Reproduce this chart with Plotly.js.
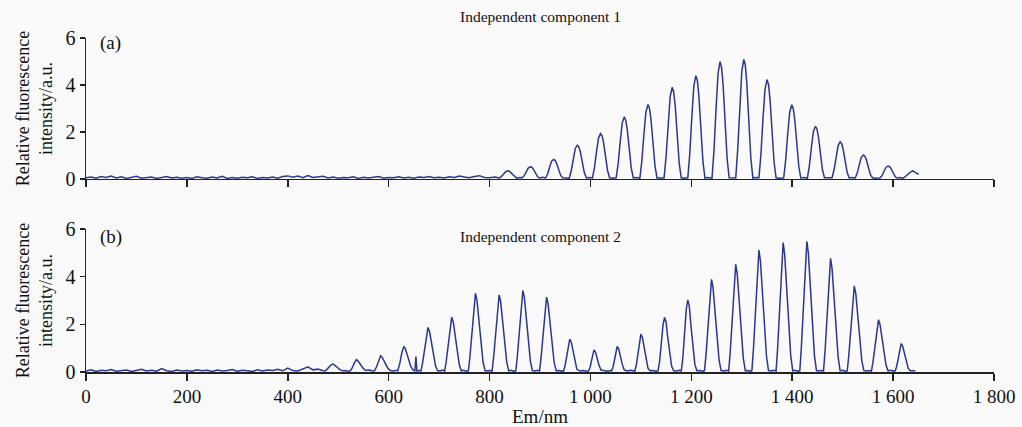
<!DOCTYPE html>
<html>
<head>
<meta charset="utf-8">
<script src="https://cdn.plot.ly/plotly-3.0.1.min.js"></script>
<style>html,body{margin:0;padding:0;background:#fafafa;}</style>
</head>
<body>
<div id="chart" style="width:1022px;height:427px;"></div>
<script>
// ---- Independent component 1 (panel a) ----
const c1Wavelength = [
  0,10,20,30,40,50,60,70,80,90,100,110,120,130,140,150,160,170,180,190,
  200,210,220,230,240,250,260,270,280,290,300,310,320,330,340,350,360,370,380,390,
  400,410,420,430,440,450,460,470,480,490,500,510,520,530,540,550,560,570,580,590,
  600,610,620,630,640,650,660,670,680,690,700,710,720,730,740,750,760,770,780,790,
  800,810,
  820,824,828,832,836,839,842,846,850,854,860,
  865,869,873,877,881,884,887,891,895,899,905,
  911,915,919,923,927,930,933,937,941,945,951,
  958,962,966,970,974,977,980,984,988,992,998,
  1004,1008,1012,1016,1020,1023,1026,1030,1034,1038,1044,
  1051,1055,1059,1063,1067,1070,1073,1077,1081,1085,1091,
  1098,1102,1106,1110,1114,1117,1120,1124,1128,1132,1138,
  1146,1150,1154,1158,1162,1165,1168,1172,1176,1180,1185,
  1193,1197,1201,1205,1209,1212,1215,1219,1223,1227,1232,
  1241,1245,1249,1253,1257,1260,1263,1267,1271,1275,1280,
  1288,1292,1296,1300,1304,1307,1310,1314,1318,1322,1327,
  1334,1338,1342,1346,1350,1353,1356,1360,1364,1368,1374,
  1383,1387,1391,1395,1399,1402,1405,1409,1413,1417,1423,
  1430,1434,1438,1442,1446,1449,1452,1456,1460,1464,1470,
  1479,1483,1487,1491,1495,1498,1501,1505,1509,1513,1519,
  1525,1529,1533,1537,1541,1544,1547,1551,1555,1559,1565,
  1574,1578,1582,1586,1590,1593,1596,1600,1604,1608,1614,
  1620,1625,1630,1635,1639,1643,1647,1651
];
const c1Intensity = [
  0.05,0.08,0.03,0.1,0.06,0.12,0.04,0.09,0.02,0.07,
  0.11,0.03,0.06,0.08,0.02,0.05,0.1,0.04,0.07,0.03,
  0.06,0.02,0.09,0.05,0.03,0.08,0.04,0.11,0.02,0.06,
  0.03,0.07,0.05,0.09,0.02,0.06,0.04,0.08,0.03,0.1,
  0.13,0.07,0.12,0.05,0.14,0.06,0.09,0.11,0.04,0.08,
  0.03,0.06,0.05,0.09,0.02,0.07,0.04,0.08,0.1,0.03,
  0.06,0.05,0.09,0.04,0.07,0.03,0.08,0.06,0.1,0.05,
  0.07,0.04,0.09,0.06,0.12,0.08,0.05,0.1,0.14,0.06,
  0.05,0.08,
  0.04,0.12,0.22,0.31,0.35,0.33,0.27,0.18,0.08,0.03,0.06,
  0.05,0.15,0.32,0.47,0.52,0.5,0.41,0.27,0.1,0.04,0.07,
  0.04,0.2,0.5,0.76,0.83,0.79,0.66,0.42,0.15,0.05,0.03,
  0.03,0.36,0.86,1.3,1.44,1.37,1.15,0.72,0.26,0.04,0.06,
  0.04,0.48,1.16,1.74,1.93,1.84,1.55,0.97,0.35,0.05,0.03,
  0.05,0.66,1.58,2.38,2.64,2.5,2.1,1.32,0.45,0.04,0.06,
  0.03,0.79,1.9,2.85,3.17,3.01,2.54,1.58,0.55,0.04,0.05,
  0.04,0.97,2.34,3.5,3.9,3.7,3.12,1.95,0.66,0.05,0.03,
  0.05,1.1,2.64,3.96,4.4,4.18,3.52,2.2,0.75,0.04,0.06,
  0.03,1.25,3.0,4.5,4.99,4.74,4.0,2.5,0.85,0.05,0.04,
  0.04,1.27,3.05,4.58,5.09,4.84,4.07,2.55,0.87,0.04,0.06,
  0.05,1.06,2.54,3.8,4.23,4.02,3.38,2.12,0.72,0.05,0.03,
  0.04,0.79,1.9,2.84,3.16,3.0,2.53,1.58,0.54,0.04,0.06,
  0.03,0.56,1.34,2.02,2.24,2.13,1.79,1.12,0.38,0.05,0.04,
  0.05,0.4,0.95,1.42,1.58,1.5,1.26,0.79,0.27,0.04,0.06,
  0.04,0.26,0.61,0.92,1.02,0.97,0.82,0.51,0.18,0.05,0.03,
  0.04,0.14,0.33,0.5,0.55,0.52,0.44,0.28,0.1,0.04,0.06,
  0.03,0.12,0.22,0.3,0.34,0.28,0.24,0.2
];

// ---- Independent component 2 (panel b) ----
const c2Wavelength = [
  0,10,20,30,40,50,60,70,80,90,100,110,120,130,140,150,160,170,180,190,
  200,210,220,230,240,250,260,270,280,290,300,310,320,330,340,350,360,370,380,390,
  400,410,420,430,440,450,460,470,
  474,478,482,486,490,494,498,502,508,514,520,
  524,528,532,536,539,542,546,550,555,562,568,
  572,576,580,584,587,590,594,598,603,610,616,
  618,622,626,630,633,636,640,644,649,652,654,656,660,
  664,667,671,675,678,681,685,689,693,697,702,707,
  711,714,718,722,725,728,732,736,740,744,749,754,
  758,761,765,769,772,775,779,783,787,791,796,801,
  805,808,812,816,819,822,826,830,834,838,843,848,
  852,855,859,863,866,869,873,877,881,885,890,895,
  899,902,906,910,913,916,920,924,928,932,938,944,
  947,950,954,957,959,962,965,969,973,979,986,993,
  996,999,1002,1005,1007,1010,1013,1017,1021,1027,1034,1040,
  1042,1045,1048,1051,1053,1056,1059,1063,1067,1073,1080,1086,
  1088,1091,1095,1098,1100,1103,1106,1110,1114,1118,1124,1130,
  1134,1137,1141,1144,1147,1150,1153,1157,1161,1165,1171,1177,
  1180,1183,1187,1190,1193,1196,1199,1203,1207,1211,1217,1223,
  1226,1229,1233,1237,1240,1243,1247,1251,1255,1259,1265,1270,
  1274,1277,1281,1285,1288,1291,1295,1299,1303,1307,1312,1317,
  1320,1323,1327,1331,1334,1337,1341,1345,1349,1353,1359,1364,
  1368,1371,1375,1379,1382,1385,1389,1393,1397,1401,1406,1411,
  1415,1418,1422,1426,1429,1432,1436,1440,1444,1448,1453,1458,
  1462,1465,1469,1473,1476,1479,1483,1487,1491,1495,1500,1505,
  1509,1512,1516,1520,1523,1526,1530,1534,1538,1542,1548,1553,
  1557,1560,1564,1568,1571,1574,1578,1582,1586,1590,1596,1601,
  1604,1607,1610,1613,1616,1619,1622,1626,1630,1634,1639,1644
];
const c2Intensity = [
  0.04,0.09,0.02,0.07,0.05,0.1,0.03,0.06,0.08,0.02,
  0.05,0.11,0.04,0.07,0.03,0.14,0.05,0.02,0.08,0.04,
  0.06,0.03,0.09,0.05,0.07,0.02,0.08,0.04,0.06,0.1,
  0.03,0.07,0.05,0.02,0.09,0.04,0.08,0.06,0.11,0.05,
  0.16,0.06,0.04,0.13,0.22,0.09,0.12,0.05,
  0.04,0.12,0.22,0.3,0.33,0.28,0.2,0.12,0.05,0.06,0.03,
  0.05,0.18,0.38,0.52,0.47,0.38,0.25,0.14,0.06,0.08,0.04,
  0.05,0.22,0.5,0.68,0.62,0.5,0.34,0.17,0.06,0.04,0.07,
  0.05,0.35,0.8,1.07,0.98,0.78,0.5,0.22,0.07,0.05,0.65,0.04,0.06,
  0.05,0.35,0.95,1.6,1.87,1.7,1.25,0.7,0.25,0.06,0.04,0.08,
  0.04,0.43,1.17,1.97,2.3,2.1,1.54,0.86,0.3,0.05,0.07,0.03,
  0.05,0.62,1.68,2.83,3.3,3.02,2.2,1.24,0.43,0.06,0.04,0.06,
  0.04,0.6,1.65,2.78,3.24,2.96,2.17,1.21,0.42,0.05,0.07,0.03,
  0.05,0.64,1.74,2.93,3.42,3.13,2.29,1.28,0.44,0.06,0.04,0.07,
  0.04,0.58,1.6,2.69,3.14,2.87,2.1,1.18,0.41,0.05,0.06,0.03,
  0.05,0.3,0.8,1.22,1.38,1.25,0.9,0.45,0.12,0.04,0.06,0.03,
  0.04,0.18,0.48,0.8,0.93,0.84,0.58,0.28,0.08,0.05,0.03,0.06,
  0.05,0.22,0.56,0.92,1.07,0.97,0.68,0.33,0.09,0.04,0.07,0.03,
  0.04,0.3,0.9,1.4,1.59,1.45,1.05,0.55,0.16,0.05,0.06,0.03,
  0.05,0.42,1.3,2.0,2.29,2.08,1.5,0.78,0.24,0.05,0.04,0.07,
  0.04,0.55,1.72,2.65,3.03,2.76,2.0,1.03,0.32,0.05,0.06,0.03,
  0.05,0.7,1.98,3.3,3.89,3.55,2.6,1.45,0.5,0.06,0.04,0.07,
  0.04,0.82,2.3,3.84,4.52,4.12,3.02,1.69,0.58,0.05,0.06,0.03,
  0.05,0.92,2.6,4.35,5.12,4.66,3.42,1.91,0.66,0.06,0.04,0.07,
  0.04,0.98,2.77,4.6,5.43,4.94,3.63,2.02,0.7,0.05,0.07,0.03,
  0.05,0.99,2.8,4.65,5.48,4.99,3.66,2.04,0.71,0.06,0.04,0.06,
  0.04,0.86,2.43,4.05,4.77,4.34,3.19,1.78,0.62,0.05,0.07,0.03,
  0.05,0.65,1.84,3.07,3.61,3.29,2.41,1.34,0.47,0.06,0.04,0.06,
  0.04,0.4,1.12,1.86,2.19,2.0,1.46,0.82,0.28,0.05,0.07,0.03,
  0.05,0.22,0.6,1.0,1.19,1.08,0.8,0.44,0.15,0.05,0.04,0.05
];

const xTicks = [0,200,400,600,800,1000,1200,1400,1600,1800];
const yTicks = [0,2,4,6];
const panelTitles = ["Independent component 1", "Independent component 2"];
const panelLabels = ["(a)", "(b)"];
const yTitle = "Relative fluorescence<br>intensity/a.u.";
const xTitle = "Em/nm";

const lineColor = "#2b3592";
const axisColor = "#222";
const serif = "Liberation Serif, Times New Roman, serif";

const traces = [
  {x: c1Wavelength, y: c1Intensity, xaxis: "x", yaxis: "y", type: "scatter", mode: "lines",
   line: {color: lineColor, width: 1.5}, hoverinfo: "skip"},
  {x: c2Wavelength, y: c2Intensity, xaxis: "x2", yaxis: "y2", type: "scatter", mode: "lines",
   line: {color: lineColor, width: 1.5}, hoverinfo: "skip"}
];

const xBase = {
  range: [0, 1800], tickmode: "array", tickvals: xTicks, ticks: "outside", ticklen: 7,
  tickwidth: 1.5, tickcolor: axisColor, showline: true, linecolor: axisColor, linewidth: 1.5,
  showgrid: false, zeroline: false, separatethousands: true, layer: "below traces",
  tickfont: {family: serif, size: 19, color: "#111"}
};
const yBase = {
  range: [0, 6], tickmode: "array", tickvals: yTicks, ticks: "outside", ticklen: 5,
  tickwidth: 1.5, tickcolor: axisColor, showline: true, linecolor: axisColor, linewidth: 1.5,
  showgrid: false, zeroline: false, layer: "below traces",
  tickfont: {family: serif, size: 20, color: "#111"},
  title: {text: yTitle, font: {family: serif, size: 18, color: "#111"}, standoff: 8}
};

const layout = {
  width: 1022, height: 427,
  margin: {l: 86, r: 28, t: 38, b: 55},
  paper_bgcolor: "#fafafa", plot_bgcolor: "#fafafa",
  showlegend: false,
  separators: ". ",
  xaxis: Object.assign({}, xBase, {domain: [0, 1], anchor: "y", showticklabels: false}),
  yaxis: Object.assign({}, yBase, {domain: [0.578, 1], anchor: "x"}),
  xaxis2: Object.assign({}, xBase, {domain: [0, 1], anchor: "y2",
    title: {text: xTitle, font: {family: serif, size: 19, color: "#111"}, standoff: 9}}),
  yaxis2: Object.assign({}, yBase, {domain: [0, 0.428], anchor: "x2"}),
  annotations: [
    {text: panelTitles[0], xref: "paper", yref: "paper", x: 0.5, y: 1.065, xanchor: "center", yanchor: "middle",
     showarrow: false, font: {family: serif, size: 15.5, color: "#111"}},
    {text: panelTitles[1], xref: "paper", yref: "paper", x: 0.5, y: 0.405, xanchor: "center", yanchor: "middle",
     showarrow: false, font: {family: serif, size: 15.5, color: "#111"}},
    {text: panelLabels[0], xref: "paper", yref: "paper", x: 0.013, y: 0.985, xanchor: "left", yanchor: "middle",
     showarrow: false, font: {family: serif, size: 19, color: "#111"}},
    {text: panelLabels[1], xref: "paper", yref: "paper", x: 0.013, y: 0.405, xanchor: "left", yanchor: "middle",
     showarrow: false, font: {family: serif, size: 19, color: "#111"}}
  ]
};

Plotly.newPlot("chart", traces, layout, {displayModeBar: false, staticPlot: true});
</script>
</body>
</html>
